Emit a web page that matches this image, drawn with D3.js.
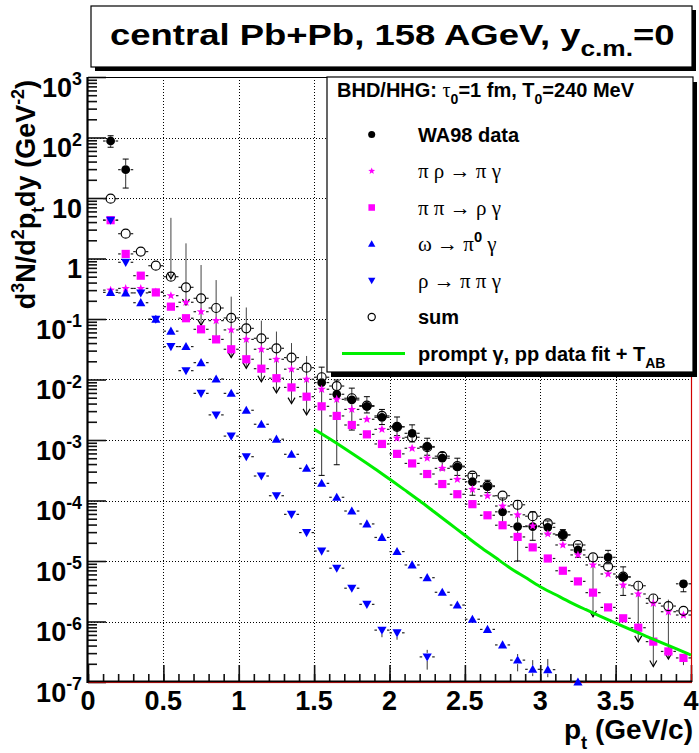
<!DOCTYPE html>
<html><head><meta charset="utf-8">
<script src="https://cdn.jsdelivr.net/npm/d3@7"></script>
<style>
body{margin:0;background:#fff}
svg{display:block}
</style>
</head><body>
<svg id="c" width="699" height="753"></svg>
<script>
// ---------------- data ----------------
const N = null;
const ptBins = [0.15,0.25,0.35,0.45,0.55,0.65,0.75,0.85,0.95,1.05,1.15,1.25,1.35,1.45,1.55,1.65,1.75,1.85,1.95,2.05,2.15,2.25,2.35,2.45,2.55,2.65,2.75,2.85,2.95,3.05,3.15,3.25,3.35,3.45,3.55,3.65,3.75,3.85,3.95];

// sum (open circles)
const sumVals = [9.75,2.57,1.3,0.76,0.5,0.334,0.22,0.152,0.104,0.070,0.048,0.0328,0.023,0.0157,0.0109,0.0078,0.0049,0.0037,0.0025,0.00165,0.00111,7.6e-4,5.4e-4,3.7e-4,2.57e-4,1.75e-4,1.2e-4,8.5e-5,5.5e-5,4.2e-5,2.7e-5,1.84e-5,1.15e-5,8.1e-6,5.5e-6,3.9e-6,2.4e-6,1.8e-6,1.5e-6];
// pi rho -> pi gamma (stars)
const piRhoVals = [0.3,0.32,0.32,0.28,0.243,0.189,0.132,0.094,0.066,0.046,0.0316,0.0216,0.0148,0.0101,0.0069,0.0047,0.0032,0.0022,0.0015,0.00107,7.3e-4,5.0e-4,3.4e-4,2.24e-4,1.53e-4,1.19e-4,8.1e-5,5.8e-5,3.8e-5,2.8e-5,1.84e-5,1.26e-5,8.6e-6,6.1e-6,4.0e-6,2.85e-6,2.0e-6,1.45e-6,1.28e-6];
// pi pi -> rho gamma (squares)
const piPiVals = [4.3,1.19,0.52,0.275,0.16,0.103,0.0675,0.046,0.0316,0.0216,0.0151,0.0105,0.0074,0.0052,0.0036,0.0025,0.00177,0.00124,8.6e-4,5.9e-4,4.1e-4,2.74e-4,1.87e-4,1.27e-4,8.7e-5,5.7e-5,3.9e-5,2.5e-5,1.68e-5,1.1e-5,6.9e-6,4.6e-6,3.0e-6,1.71e-6,1.13e-6,7.9e-7,4.65e-7,3.2e-7,2.5e-7];
// omega -> pi0 gamma (up triangles)
const omegaVals = [0.275,0.27,0.186,0.099,0.063,0.035,0.019,0.0102,0.0059,0.0031,0.00182,0.00103,5.8e-4,3.4e-4,1.92e-4,1.13e-4,6.7e-5,4.1e-5,2.45e-5,1.43e-5,8.6e-6,5.3e-6,3.04e-6,1.87e-6,1.09e-6,7.4e-7,4.1e-7,2.3e-7,1.62e-7,1.6e-7,N,1.0e-7,N,N,N,N,N,N,N];
// rho -> pi pi gamma (down triangles)
const rhoDecVals = [4.3,0.865,0.27,0.099,0.035,0.014,0.0059,0.0026,0.00116,5.3e-4,2.54e-4,1.2e-4,5.9e-5,2.95e-5,1.46e-5,7.6e-6,3.55e-6,1.92e-6,7.2e-7,6.5e-7,N,2.6e-7,N,N,N,N,N,N,N,N,N,N,N,N,N,N,N,N,N];

// vertical errors on model points: [pt, low, high]
const omegaErr = [[2.85,1.5e-7,2.9e-7],[2.95,1.25e-7,2.3e-7],[3.05,1.2e-7,2.4e-7]];
const rhoDecErr = [[1.95,5.5e-7,8.0e-7],[2.05,5.0e-7,7.5e-7],[2.25,1.6e-7,3.4e-7]];
const piPiErr = [[3.95,1.9e-7,2.5e-7]];

// WA98 data
const wa98Pt  = [0.15,0.25,1.55,1.65,1.75,1.85,1.95,2.05,2.15,2.25,2.35,2.45,2.55,2.65,2.75,2.85,2.95,3.05,3.15,3.25,3.45,3.55,3.95];
const wa98Val = [87.5,29.4,0.0089,0.0057,0.0046,0.0036,0.00237,0.00166,0.00129,7.8e-4,5.0e-4,3.6e-4,2.04e-4,1.7e-4,6.5e-5,3.7e-5,3.7e-5,3.6e-5,2.7e-5,1.52e-5,1.15e-5,5.4e-6,4.2e-6];
const wa98Hi  = [107,44,0.016,0.0098,0.0072,0.0052,0.0032,0.0024,0.00178,0.00107,6.2e-4,5.0e-4,2.8e-4,2.16e-4,1.1e-4,1.0e-4,6.5e-5,4.6e-5,3.3e-5,1.9e-5,1.5e-5,8e-6,4.7e-6];
const wa98Lo  = [69,14.6,2.6e-4,3.9e-4,0.00146,0.0028,0.0018,0.00118,9.3e-4,5.6e-4,3.2e-4,2.6e-4,1.22e-4,1.35e-4,4.2e-5,1.0e-5,2.2e-5,2.8e-5,2.2e-5,1.15e-5,9.0e-6,2.7e-6,3.1e-6];
// WA98 upper limits
const limPt  = [0.55,0.65,0.75,0.85,0.95,1.05,1.15,1.25,1.35,1.45,3.35,3.65,3.75,3.85];
const limTop = [4.7,1.78,0.78,0.44,0.234,0.155,0.094,0.062,0.04,0.0245,1.3e-5,4.5e-6,2.8e-6,2.3e-6];
const limTip = [0.46,0.17,0.079,0.042,0.023,0.0153,0.0092,0.006,0.004,0.0026,1.2e-6,4.6e-7,1.8e-7,2.4e-7];

// prompt photon curve (pp data fit + T_AB)
const promptPt  = [1.5,1.6,1.7,1.8,1.9,2.0,2.1,2.2,2.3,2.4,2.5,2.6,2.7,2.8,2.9,3.0,3.1,3.2,3.3,3.4,3.5,3.6,3.7,3.8,3.9,4.0];
const promptVal = [1.51e-3,1.06e-3,7.33e-4,5.01e-4,3.39e-4,2.26e-4,1.50e-4,9.89e-5,6.38e-5,4.12e-5,2.66e-5,1.72e-5,1.15e-5,7.67e-6,5.37e-6,3.76e-6,2.79e-6,2.07e-6,1.58e-6,1.22e-6,9.44e-7,7.33e-7,5.75e-7,4.52e-7,3.55e-7,2.79e-7];

// ticks
const xMajor = [0,0.5,1,1.5,2,2.5,3,3.5,4];
const xTickLabels = ["0","0.5","1","1.5","2","2.5","3","3.5","4"];
const yDecades = [1e3,1e2,1e1,1,1e-1,1e-2,1e-3,1e-4,1e-5,1e-6,1e-7];
const yTickBase = ["10","10","10","1","10","10","10","10","10","10","10"];
const yTickExp  = ["3","2","","","-1","-2","-3","-4","-5","-6","-7"];

// ---------------- drawing ----------------
const sans = '"Liberation Sans",Arial,Helvetica,sans-serif';
const serif = '"Liberation Serif","DejaVu Serif","Times New Roman",serif';
const svg = d3.select('#c').attr('font-family',sans).attr('font-weight','bold');
const W = 699, H = 753;
const X0 = 88, X1 = 691, YB = 682, YT = 77;
const x = d3.scaleLinear().domain([0,4]).range([X0,X1]);
const y = d3.scaleLog().domain([1e-7,1e3]).range([YB,YT]);

svg.append('rect').attr('width',W).attr('height',H).attr('fill','#fff');

function rich(sel, parts, fs){
  let cur = 0;
  parts.forEach(p=>{
    const shift = p.sup ? -fs*0.42 : (p.sub ? fs*0.35 : 0);
    const ts = sel.append('tspan').text(p.t).attr('dy', shift-cur);
    if(p.sup||p.sub) ts.attr('font-size', fs*(p.scale||0.66));
    if(p.font) ts.attr('font-family', p.font);
    if(p.weight) ts.attr('font-weight', p.weight);
    cur = shift;
  });
}

// title box
const tb = {x:91,y:6,w:601,h:61};
svg.append('rect').attr('x',tb.x+4).attr('y',tb.y+4).attr('width',tb.w).attr('height',tb.h).attr('fill','#000');
svg.append('rect').attr('x',tb.x).attr('y',tb.y).attr('width',tb.w).attr('height',tb.h).attr('fill','#fff').attr('stroke','#000').attr('stroke-width',1.2);
const title = svg.append('text').attr('x',0).attr('y',0).attr('font-size',30);
rich(title,[{t:'central Pb+Pb, 158 AGeV, y'},{t:'c.m.',sub:true,scale:0.72},{t:'=0'}],30);
{
  const w = title.node().getBBox().width;
  title.attr('transform',`translate(110,45) scale(${565/w},1)`);
}

// grid
const gridG = svg.append('g').attr('stroke','#000').attr('stroke-width',1).attr('stroke-dasharray','1,2').attr('shape-rendering','crispEdges');
xMajor.slice(1,-1).forEach(v=>gridG.append('line').attr('x1',Math.round(x(v))+0.5).attr('x2',Math.round(x(v))+0.5).attr('y1',YT).attr('y2',YB));
yDecades.slice(1,-1).forEach(v=>gridG.append('line').attr('x1',X0).attr('x2',X1).attr('y1',Math.round(y(v))+0.5).attr('y2',Math.round(y(v))+0.5));

// ticks via d3 axes
const xMinor = d3.range(0,4.0001,0.1);
const gx1 = svg.append('g').attr('transform',`translate(0,${YB})`).call(d3.axisBottom(x).tickValues(xMinor).tickSize(-8).tickFormat(''));
const gx2 = svg.append('g').attr('transform',`translate(0,${YB})`).call(d3.axisBottom(x).tickValues(xMajor).tickSize(-17).tickFormat(''));
const yMinor = [];
yDecades.slice(1).forEach(d=>{ for(let k=2;k<=9;k++) yMinor.push(d*k); });
const gy1 = svg.append('g').attr('transform',`translate(${X0},0)`).call(d3.axisLeft(y).tickValues(yMinor).tickSize(-9).tickFormat(''));
const gy2 = svg.append('g').attr('transform',`translate(${X0},0)`).call(d3.axisLeft(y).tickValues(yDecades).tickSize(-18).tickFormat(''));
[gx1,gx2,gy1,gy2].forEach(g=>{g.select('.domain').remove(); g.selectAll('line').attr('stroke','#111').attr('stroke-width',1.6);});

// frame lines
svg.append('line').attr('x1',X0).attr('x2',X1+1).attr('y1',YT+0.5).attr('y2',YT+0.5).attr('stroke','#000').attr('stroke-width',1);
svg.append('line').attr('x1',X1+0.5).attr('x2',X1+0.5).attr('y1',YT).attr('y2',YB).attr('stroke','#d00000').attr('stroke-width',1.2);
svg.append('line').attr('x1',X0).attr('x2',X1+1).attr('y1',YB-0.5).attr('y2',YB-0.5).attr('stroke','#000').attr('stroke-width',2);
svg.append('line').attr('x1',X0).attr('x2',X1+1).attr('y1',YB+0.6).attr('y2',YB+0.6).attr('stroke','#a00000').attr('stroke-width',1);
svg.append('line').attr('x1',X0-0.5).attr('x2',X0-0.5).attr('y1',YT).attr('y2',YB+1).attr('stroke','#000').attr('stroke-width',2.2);

// tick labels
xMajor.forEach((v,i)=>{
  svg.append('text').attr('x',x(v)).attr('y',710).attr('text-anchor','middle').attr('font-size',27).text(xTickLabels[i]);
});
yDecades.forEach((v,i)=>{
  const t = svg.append('text').attr('x',82).attr('y',y(v)+19.5).attr('text-anchor','end').attr('font-size',27);
  const parts = [{t:yTickBase[i]}];
  if(yTickExp[i]) parts.push({t:yTickExp[i],sup:true});
  rich(t,parts,27);
});

// axis titles
const xt = svg.append('text').attr('x',693).attr('y',739).attr('text-anchor','end').attr('font-size',28);
rich(xt,[{t:'p'},{t:'t',sub:true},{t:' (GeV/c)'}],28);
const yt = svg.append('text').attr('transform','translate(35,80) rotate(-90)').attr('text-anchor','end').attr('font-size',27);
rich(yt,[{t:'d'},{t:'3',sup:true},{t:'N/d'},{t:'2',sup:true},{t:'p'},{t:'t',sub:true},{t:'dy (GeV'},{t:'-2',sup:true},{t:')'}],27);

// ---------------- markers ----------------
function starPath(R,r){
  let d='';
  for(let k=0;k<10;k++){
    const a = -Math.PI/2 + k*Math.PI/5;
    const rr = k%2===0?R:r;
    d += (k===0?'M':'L') + (rr*Math.cos(a)).toFixed(2)+','+(rr*Math.sin(a)).toFixed(2);
  }
  return d+'Z';
}
const shapes = {
  dot:    s=>d3.symbol(d3.symbolCircle, Math.PI*Math.pow(4.4*s,2))(),
  ring:   s=>d3.symbol(d3.symbolCircle, Math.PI*Math.pow(4.5*s,2))(),
  square: s=>d3.symbol(d3.symbolSquare, Math.pow(8.2*s,2))(),
  star:   s=>starPath(4.5*s,1.9*s),
  up:     s=>`M0,${-4.6*s}L${4.6*s},${3.5*s}L${-4.6*s},${3.5*s}Z`,
  down:   s=>`M0,${4.6*s}L${4.6*s},${-3.5*s}L${-4.6*s},${-3.5*s}Z`
};
const styles = {
  dot:{fill:'#000',stroke:'none'},
  ring:{fill:'none',stroke:'#000',sw:1.2},
  square:{fill:'#ff00ff',stroke:'none'},
  star:{fill:'#ff00ff',stroke:'none'},
  up:{fill:'#0000ff',stroke:'none'},
  down:{fill:'#0000ff',stroke:'none'}
};
function marker(g,shape,px,py,s){
  const st = styles[shape];
  g.append('path').attr('d',shapes[shape](s||1)).attr('transform',`translate(${px},${py})`)
   .attr('fill',st.fill).attr('stroke',st.stroke).attr('stroke-width',st.sw||0);
}
const dataG = svg.append('g');
const errCol = '#222';
const hw = x(0.05)-x(0);
function hErr(px,py,gap){
  dataG.append('line').attr('x1',px-hw).attr('x2',px-gap).attr('y1',py).attr('y2',py).attr('stroke',errCol).attr('stroke-width',1.2);
  dataG.append('line').attr('x1',px+gap).attr('x2',px+hw).attr('y1',py).attr('y2',py).attr('stroke',errCol).attr('stroke-width',1.2);
}
function vErr(px,py,lo,hi,gap,cap){
  if(hi!=null){
    const yh = y(hi);
    if(py-gap>yh) dataG.append('line').attr('x1',px).attr('x2',px).attr('y1',py-gap).attr('y2',yh).attr('stroke','#333').attr('stroke-width',1);
    if(cap) dataG.append('line').attr('x1',px-3).attr('x2',px+3).attr('y1',yh).attr('y2',yh).attr('stroke','#000').attr('stroke-width',1);
  }
  if(lo!=null){
    const yl = y(lo);
    if(yl>py+gap) dataG.append('line').attr('x1',px).attr('x2',px).attr('y1',py+gap).attr('y2',yl).attr('stroke','#333').attr('stroke-width',1);
    if(cap) dataG.append('line').attr('x1',px-3).attr('x2',px+3).attr('y1',yl).attr('y2',yl).attr('stroke','#000').attr('stroke-width',1);
  }
}

// WA98 upper limits
limPt.forEach((p,i)=>{
  const px = x(p), yTop = y(limTop[i]), yTip = y(limTip[i]);
  dataG.append('line').attr('x1',px).attr('x2',px).attr('y1',yTop).attr('y2',yTip).attr('stroke','#444').attr('stroke-width',1);
  dataG.append('path').attr('d',`M${px-3.5},${yTip-6}L${px},${yTip}L${px+3.5},${yTip-6}`).attr('fill','none').attr('stroke','#000').attr('stroke-width',1.2);
});
// WA98 points
wa98Pt.forEach((p,i)=>{
  const px = x(p), py = y(wa98Val[i]);
  hErr(px,py,5);
  vErr(px,py,wa98Lo[i],wa98Hi[i],4.5,true);
  marker(dataG,'dot',px,py);
});

function series(vals,shape,errs){
  const errMap = new Map((errs||[]).map(e=>[e[0],e]));
  ptBins.forEach((p,i)=>{
    const v = vals[i];
    if(v==null) return;
    const px = x(p), py = y(v);
    hErr(px,py,5);
    const e = errMap.get(p);
    if(e) vErr(px,py,e[1],e[2],4,false);
    marker(dataG,shape,px,py);
  });
}
series(piRhoVals,'star');
series(piPiVals,'square',piPiErr);
series(omegaVals,'up',omegaErr);
series(rhoDecVals,'down',rhoDecErr);
series(sumVals,'ring');

// prompt photon curve
const line = d3.line().x((d,i)=>x(promptPt[i])).y(d=>y(d)).curve(d3.curveMonotoneX);
dataG.append('path').attr('d',line(promptVal)).attr('fill','none').attr('stroke','#00ee00').attr('stroke-width',3);

// ---------------- legend ----------------
const lg = {x:327,y:77,w:366,h:295};
svg.append('rect').attr('x',lg.x+4).attr('y',lg.y+5).attr('width',lg.w).attr('height',lg.h).attr('fill','#000');
svg.append('rect').attr('x',lg.x).attr('y',lg.y).attr('width',lg.w).attr('height',lg.h).attr('fill','#fff').attr('stroke','#000').attr('stroke-width',1.2);
const hdr = svg.append('text').attr('x',337).attr('y',97).attr('font-size',20);
rich(hdr,[{t:'BHD/HHG: '},{t:'τ',font:serif,weight:'normal'},{t:'0',sub:true,scale:0.7},{t:'=1 fm, T'},{t:'0',sub:true,scale:0.7},{t:'=240 MeV'}],20);

const legendRows = [
  {shape:'dot', parts:[{t:'WA98 data'}], serif:false},
  {shape:'star', parts:[{t:'π ρ → π γ'}], serif:true},
  {shape:'square', parts:[{t:'π π → ρ γ'}], serif:true},
  {shape:'up', parts:[{t:'ω → π'},{t:'0',sup:true,font:sans,weight:'bold',scale:0.7},{t:' γ'}], serif:true},
  {shape:'down', parts:[{t:'ρ → π π γ'}], serif:true},
  {shape:'ring', parts:[{t:'sum'}], serif:false},
  {shape:'line', parts:[{t:'prompt γ, pp data fit + T'},{t:'AB',sub:true,scale:0.7}], serif:false}
];
legendRows.forEach((r,i)=>{
  const cy = 134.5 + 36.5*i;
  if(r.shape==='line'){
    svg.append('line').attr('x1',342).attr('x2',405).attr('y1',cy).attr('y2',cy).attr('stroke','#00ee00').attr('stroke-width',3);
  } else {
    marker(svg,r.shape,371.7,cy,0.8);
  }
  const t = svg.append('text').attr('x',418).attr('y',cy+7).attr('font-size',r.serif?21:20);
  if(r.serif) t.attr('font-family',serif).attr('font-weight','normal');
  rich(t,r.parts,r.serif?21:20);
});
</script>
</body></html>
